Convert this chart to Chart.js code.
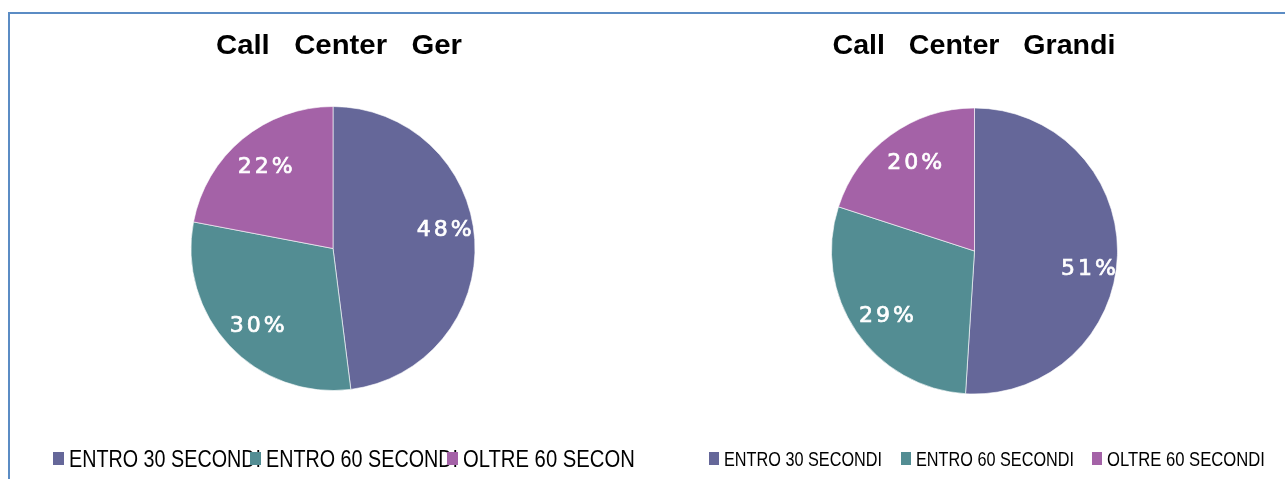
<!DOCTYPE html>
<html>
<head>
<meta charset="utf-8">
<script src="https://cdn.jsdelivr.net/npm/chart.js@4.4.1/dist/chart.umd.min.js"></script>
<style>
  html, body { margin: 0; padding: 0; background: #ffffff; width: 1285px; height: 479px; overflow: hidden; }
  #frame { position: absolute; left: 8px; top: 12px; width: 1290px; height: 480px;
           border-left: 2px solid #5b8cc4; border-top: 2px solid #5b8cc4; box-sizing: border-box; }
  canvas { position: absolute; top: 0; }
  #c1 { left: 0px; }
  #c2 { left: 640px; }
</style>
</head>
<body>
<div id="frame"></div>
<canvas id="c1" width="640" height="479"></canvas>
<canvas id="c2" width="645" height="479"></canvas>
<script>
// ---- data ----
const categories = ['ENTRO 30 SECONDI', 'ENTRO 60 SECONDI', 'OLTRE 60 SECONDI'];
const gerValues = [48, 30, 22];
const grandiValues = [51, 29, 20];
const titleGer = 'Call   Center   Ger';
const titleGrandi = 'Call   Center   Grandi';
const sliceColors = ['#656799', '#538d93', '#a462a7'];

// draw text compressed/stretched horizontally to a target width
function fitText(ctx, text, x, y, targetW, align) {
  const w = ctx.measureText(text).width;
  const s = targetW / w;
  ctx.save();
  let left = x;
  if (align === 'center') left = x - targetW / 2;
  ctx.translate(left, y);
  ctx.scale(s, 1);
  ctx.textAlign = 'left';
  ctx.fillText(text, 0, 0);
  ctx.restore();
}

function spacedText(ctx, text, cx, cy, spacing) {
  let total = 0;
  const ws = [...text].map(ch => ctx.measureText(ch).width);
  ws.forEach(w => total += w);
  total += spacing * (ws.length - 1);
  let x = cx - total / 2;
  ctx.textAlign = 'left';
  [...text].forEach((ch, i) => {
    ctx.fillText(ch, x, cy);
    ctx.strokeText(ch, x, cy);
    x += ws[i] + spacing;
  });
}

function makeChart(canvasId, values, title, cfg) {
  const decor = {
    id: 'decor',
    afterDatasetsDraw(chart) {
      const ctx = chart.ctx;
      const meta = chart.getDatasetMeta(0);
      const total = values.reduce((a, b) => a + b, 0);
      // percentage labels
      ctx.save();
      ctx.fillStyle = '#ffffff';
      ctx.strokeStyle = '#ffffff';
      ctx.lineWidth = 0.7;
      ctx.font = '22px "DejaVu Sans"';
      ctx.textBaseline = 'middle';
      meta.data.forEach((arc, i) => {
        const p = arc.getProps(['x', 'y', 'startAngle', 'endAngle', 'outerRadius'], true);
        const mid = (p.startAngle + p.endAngle) / 2;
        const r = p.outerRadius * cfg.labelFrac;
        const lx = p.x + Math.cos(mid) * r + cfg.labelNudge[i][0];
        const ly = p.y + Math.sin(mid) * r + cfg.labelNudge[i][1];
        const pct = Math.round(values[i] / total * 100) + '%';
        spacedText(ctx, pct, lx, ly, 3);
      });
      ctx.restore();
      // title
      ctx.save();
      ctx.fillStyle = '#000000';
      ctx.font = 'bold 27px "Liberation Sans"';
      ctx.textBaseline = 'alphabetic';
      fitText(ctx, title, cfg.titleX, cfg.titleY, cfg.titleW, 'center');
      ctx.restore();
      // legend
      ctx.save();
      ctx.font = cfg.legendFont;
      ctx.textBaseline = 'alphabetic';
      categories.forEach((cat, i) => {
        const bx = cfg.legendBoxX[i];
        const tx = bx + cfg.legendTextGap;
        const clipR = i < categories.length - 1 ? cfg.legendBoxX[i + 1] + cfg.legendBoxW : cfg.legendClip;
        ctx.save();
        ctx.beginPath();
        ctx.rect(tx - 2, cfg.legendBoxY - 12, clipR - tx + 2, 40);
        ctx.clip();
        ctx.fillStyle = '#000000';
        fitText(ctx, cat, tx, cfg.legendBaseY, cfg.legendTextW, 'left');
        ctx.restore();
      });
      categories.forEach((cat, i) => {
        ctx.fillStyle = sliceColors[i];
        ctx.fillRect(cfg.legendBoxX[i], cfg.legendBoxY, cfg.legendBoxW, cfg.legendBoxH);
      });
      ctx.restore();
    }
  };

  return new Chart(document.getElementById(canvasId), {
    type: 'pie',
    data: {
      labels: categories,
      datasets: [{
        data: values,
        backgroundColor: sliceColors,
        borderColor: 'rgba(255,255,255,0.6)',
        borderWidth: 1
      }]
    },
    options: {
      responsive: false,
      animation: false,
      events: [],
      layout: { padding: cfg.padding },
      plugins: {
        legend: { display: false },
        tooltip: { enabled: false },
        title: { display: false }
      }
    },
    plugins: [decor]
  });
}

makeChart('c1', gerValues, titleGer, {
  padding: { left: 190, right: 164, top: 106, bottom: 88 },
  labelFrac: 0.77,
  labelNudge: [[2, -11], [4, 3], [2, 3]],
  titleX: 339, titleY: 54, titleW: 246,
  legendFont: '24px "Liberation Sans"',
  legendBoxX: [53, 250, 447], legendBoxY: 452, legendBoxW: 11, legendBoxH: 13,
  legendTextGap: 16, legendTextW: 192, legendBaseY: 467, legendClip: 636
});

makeChart('c2', grandiValues, titleGrandi, {
  padding: { left: 191, right: 167, top: 107, bottom: 84 },
  labelFrac: 0.77,
  labelNudge: [[4, 15], [3, 3], [5, 1]],
  titleX: 334, titleY: 54, titleW: 283,
  legendFont: '21px "Liberation Sans"',
  legendBoxX: [69, 261, 452], legendBoxY: 452, legendBoxW: 10, legendBoxH: 13,
  legendTextGap: 15, legendTextW: 158, legendBaseY: 466, legendClip: 645
});
</script>
</body>
</html>
